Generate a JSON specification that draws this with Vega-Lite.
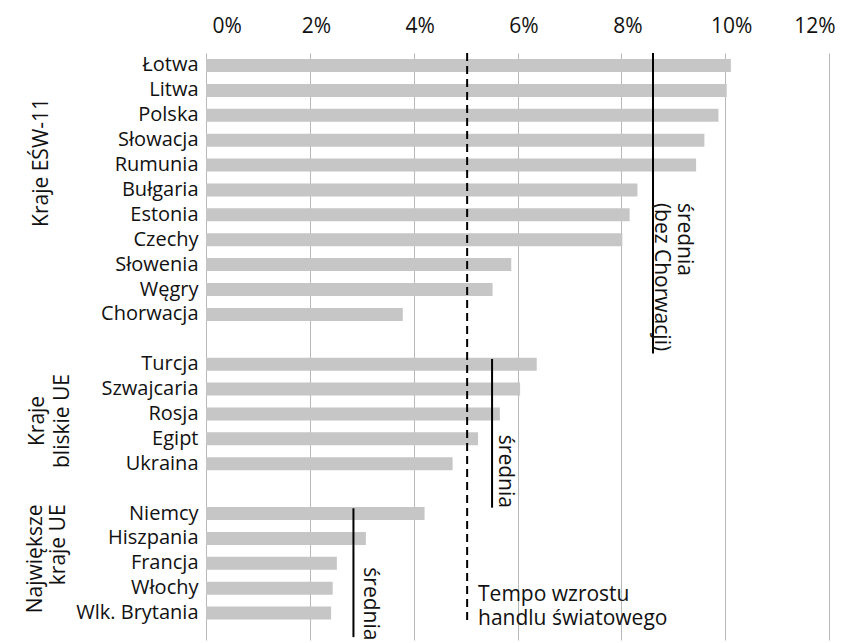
{
  "$schema": "https://vega.github.io/schema/vega-lite/v6.json",
  "width": 623,
  "height": 587,
  "autosize": {"type": "none"},
  "padding": {"left": 206, "top": 53, "right": 21, "bottom": 3},
  "background": "white",
  "config": {
    "view": {"stroke": null},
    "font": "Open Sans",
    "text": {"font": "Open Sans", "fontSize": 21, "color": "#111111"}
  },
  "data": {
    "values": [
      {"country": "Łotwa", "group": "Kraje EŚW-11", "value": 10.11},
      {"country": "Litwa", "group": "Kraje EŚW-11", "value": 10.03},
      {"country": "Polska", "group": "Kraje EŚW-11", "value": 9.87},
      {"country": "Słowacja", "group": "Kraje EŚW-11", "value": 9.6},
      {"country": "Rumunia", "group": "Kraje EŚW-11", "value": 9.44},
      {"country": "Bułgaria", "group": "Kraje EŚW-11", "value": 8.31},
      {"country": "Estonia", "group": "Kraje EŚW-11", "value": 8.16},
      {"country": "Czechy", "group": "Kraje EŚW-11", "value": 8.02},
      {"country": "Słowenia", "group": "Kraje EŚW-11", "value": 5.88},
      {"country": "Węgry", "group": "Kraje EŚW-11", "value": 5.52},
      {"country": "Chorwacja", "group": "Kraje EŚW-11", "value": 3.79},
      {"country": "Turcja", "group": "Kraje bliskie UE", "value": 6.37},
      {"country": "Szwajcaria", "group": "Kraje bliskie UE", "value": 6.05},
      {"country": "Rosja", "group": "Kraje bliskie UE", "value": 5.66},
      {"country": "Egipt", "group": "Kraje bliskie UE", "value": 5.24},
      {"country": "Ukraina", "group": "Kraje bliskie UE", "value": 4.75},
      {"country": "Niemcy", "group": "Największe kraje UE", "value": 4.21},
      {"country": "Hiszpania", "group": "Największe kraje UE", "value": 3.08},
      {"country": "Francja", "group": "Największe kraje UE", "value": 2.52},
      {"country": "Włochy", "group": "Największe kraje UE", "value": 2.44},
      {"country": "Wlk. Brytania", "group": "Największe kraje UE", "value": 2.41}
    ]
  },
  "layer": [
    {
      "mark": {"type": "bar", "color": "#c6c6c6"},
      "encoding": {
        "x": {
          "field": "value",
          "type": "quantitative",
          "scale": {"domain": [0, 12], "nice": false},
          "axis": {
            "orient": "top",
            "values": [0, 2, 4, 6, 8, 10, 12],
            "labelExpr": "datum.value + '%'",
            "grid": true,
            "gridColor": "#b8b8b8",
            "gridWidth": 1,
            "ticks": false,
            "domain": false,
            "labelPadding": 17,
            "labelFontSize": 21,
            "labelColor": "#111111",
            "labelOffset": 6,
            "title": null
          }
        },
        "y": {
          "field": "country",
          "type": "nominal",
          "sort": null,
          "scale": {
            "domain": ["Łotwa", "Litwa", "Polska", "Słowacja", "Rumunia", "Bułgaria", "Estonia", "Czechy", "Słowenia", "Węgry", "Chorwacja", "gap1", "Turcja", "Szwajcaria", "Rosja", "Egipt", "Ukraina", "gap2", "Niemcy", "Hiszpania", "Francja", "Włochy", "Wlk. Brytania"],
            "paddingInner": 0.478,
            "paddingOuter": 0.531,
            "align": 0.227,
            "round": false
          },
          "axis": {
            "labelExpr": "indexof(datum.value, 'gap') == 0 ? '' : datum.value",
            "ticks": false,
            "tickSize": 0,
            "domain": false,
            "labelPadding": 8,
            "labelFontSize": 20,
            "labelColor": "#111111",
            "title": null
          }
        }
      }
    },
    {
      "data": {"values": [{"label": "Tempo wzrostu handlu światowego", "value": 5.03}]},
      "mark": {"type": "rule", "color": "#000000", "strokeWidth": 2, "strokeDash": [8, 5]},
      "encoding": {
        "x": {"field": "value", "type": "quantitative"},
        "y": {"datum": "Łotwa", "type": "nominal", "bandPosition": -0.46},
        "y2": {"datum": "Wlk. Brytania", "bandPosition": 1.27}
      }
    },
    {
      "data": {"values": [{"label": "średnia EŚW", "value": 8.61}]},
      "mark": {"type": "rule", "color": "#000000", "strokeWidth": 2},
      "encoding": {
        "x": {"field": "value", "type": "quantitative"},
        "y": {"datum": "Łotwa", "type": "nominal", "bandPosition": -0.46},
        "y2": {"datum": "gap1", "bandPosition": 1.6}
      }
    },
    {
      "data": {"values": [{"label": "średnia bliskie", "value": 5.51}]},
      "mark": {"type": "rule", "color": "#000000", "strokeWidth": 2},
      "encoding": {
        "x": {"field": "value", "type": "quantitative"},
        "y": {"datum": "Turcja", "type": "nominal", "bandPosition": 0.1},
        "y2": {"datum": "Niemcy", "bandPosition": 0.05}
      }
    },
    {
      "data": {"values": [{"label": "średnia największe", "value": 2.84}]},
      "mark": {"type": "rule", "color": "#000000", "strokeWidth": 2},
      "encoding": {
        "x": {"field": "value", "type": "quantitative"},
        "y": {"datum": "Niemcy", "type": "nominal", "bandPosition": 0.1},
        "y2": {"datum": "Wlk. Brytania", "bandPosition": 2.35}
      }
    },
    {
      "data": {"values": [{"text": "średnia\n(bez Chorwacji)", "pos": 9.2}]},
      "mark": {"type": "text", "angle": 90, "align": "left", "baseline": "middle", "lineBreak": "\n", "lineHeight": 23},
      "encoding": {
        "x": {"field": "pos", "type": "quantitative"},
        "y": {"datum": "Estonia", "type": "nominal", "bandPosition": -0.42},
        "text": {"field": "text"}
      }
    },
    {
      "data": {"values": [{"text": "średnia", "pos": 5.76}]},
      "mark": {"type": "text", "angle": 90, "align": "left", "baseline": "middle"},
      "encoding": {
        "x": {"field": "pos", "type": "quantitative"},
        "y": {"datum": "Egipt", "type": "nominal", "bandPosition": 0.19},
        "text": {"field": "text"}
      }
    },
    {
      "data": {"values": [{"text": "średnia", "pos": 3.16}]},
      "mark": {"type": "text", "angle": 90, "align": "left", "baseline": "middle"},
      "encoding": {
        "x": {"field": "pos", "type": "quantitative"},
        "y": {"datum": "Francja", "type": "nominal", "bandPosition": 0.81},
        "text": {"field": "text"}
      }
    },
    {
      "data": {"values": [{"text": "Tempo wzrostu\nhandlu światowego", "pos": 5.24}]},
      "mark": {"type": "text", "align": "left", "baseline": "alphabetic", "lineBreak": "\n", "lineHeight": 24},
      "encoding": {
        "x": {"field": "pos", "type": "quantitative"},
        "y": {"datum": "Włochy", "type": "nominal", "bandPosition": 1.52},
        "text": {"field": "text"}
      }
    },
    {
      "data": {"values": [{"text": "Kraje EŚW-11", "pos": -3.15}]},
      "mark": {"type": "text", "angle": 270, "align": "center", "baseline": "middle"},
      "encoding": {
        "x": {"field": "pos", "type": "quantitative"},
        "y": {"datum": "Rumunia", "type": "nominal", "bandPosition": 0.3},
        "text": {"field": "text"}
      }
    },
    {
      "data": {"values": [{"text": "Kraje\nbliskie UE", "pos": -3.24}]},
      "mark": {"type": "text", "angle": 270, "align": "center", "baseline": "middle", "lineBreak": "\n", "lineHeight": 25},
      "encoding": {
        "x": {"field": "pos", "type": "quantitative"},
        "y": {"datum": "Rosja", "type": "nominal", "bandPosition": 1.04},
        "text": {"field": "text"}
      }
    },
    {
      "data": {"values": [{"text": "Największe\nkraje UE", "pos": -3.28}]},
      "mark": {"type": "text", "angle": 270, "align": "right", "baseline": "middle", "lineBreak": "\n", "lineHeight": 23},
      "encoding": {
        "x": {"field": "pos", "type": "quantitative"},
        "y": {"datum": "Niemcy", "type": "nominal", "bandPosition": -0.2},
        "text": {"field": "text"}
      }
    }
  ]
}
